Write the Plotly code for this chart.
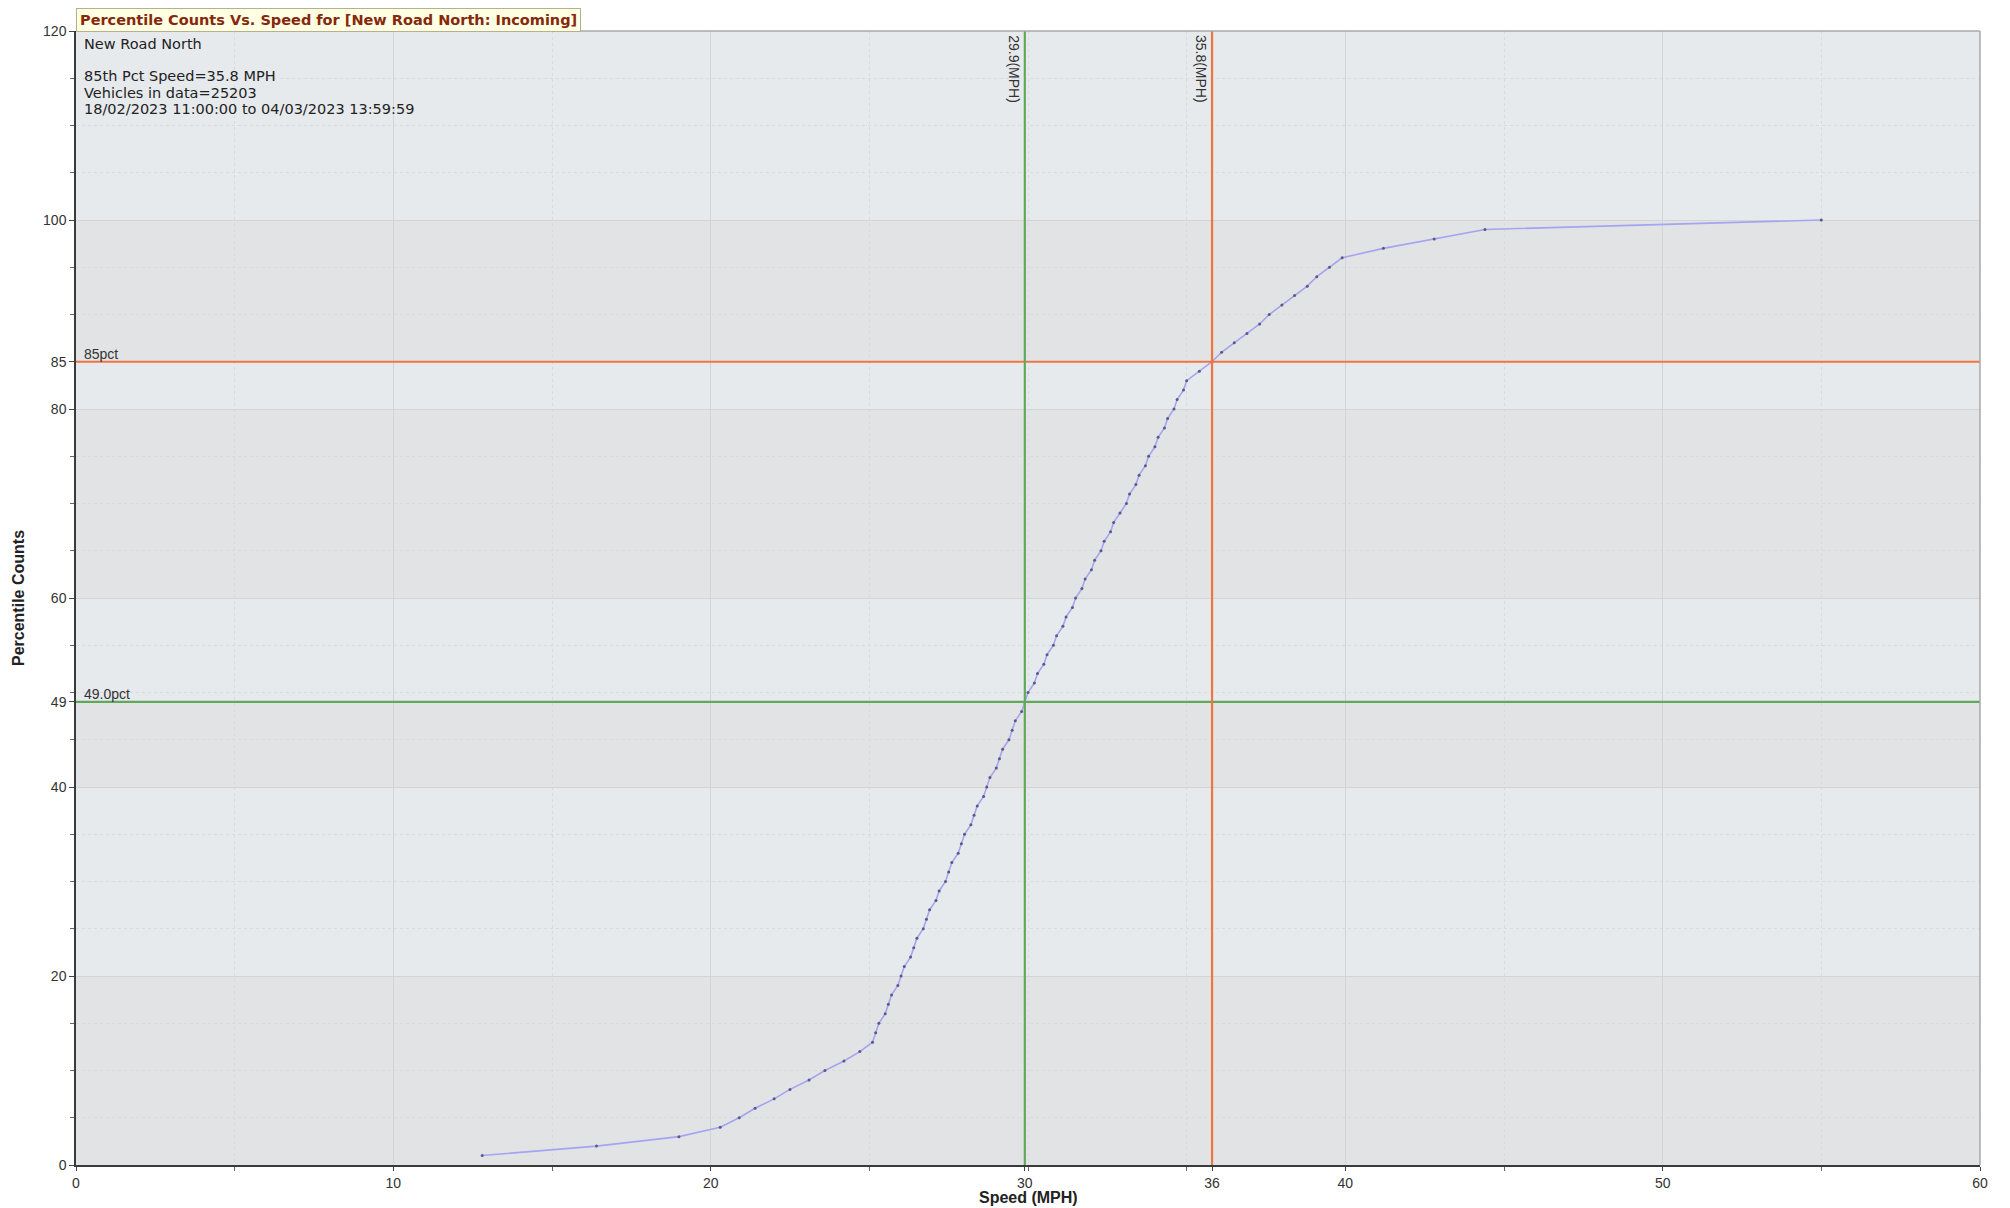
import plotly.graph_objects as go

# ---- data ----
percentiles = list(range(1, 101))
speeds_mph = [
    12.8, 16.4, 19.0, 20.3, 20.9, 21.4, 22.0, 22.5, 23.1, 23.6,
    24.2, 24.7, 25.1, 25.2, 25.3, 25.5, 25.6, 25.7, 25.9, 26.0,
    26.1, 26.3, 26.4, 26.5, 26.7, 26.8, 26.9, 27.1, 27.2, 27.4,
    27.5, 27.6, 27.8, 27.9, 28.0, 28.2, 28.3, 28.4, 28.6, 28.7,
    28.8, 29.0, 29.1, 29.2, 29.4, 29.5, 29.6, 29.8, 29.9, 30.0,
    30.2, 30.3, 30.5, 30.6, 30.8, 30.9, 31.1, 31.2, 31.4, 31.5,
    31.7, 31.8, 32.0, 32.1, 32.3, 32.4, 32.6, 32.7, 32.9, 33.1,
    33.2, 33.4, 33.5, 33.7, 33.8, 34.0, 34.1, 34.3, 34.4, 34.6,
    34.7, 34.9, 35.0, 35.4, 35.8, 36.1, 36.5, 36.9, 37.3, 37.6,
    38.0, 38.4, 38.8, 39.1, 39.5, 39.9, 41.2, 42.8, 44.4, 55.0,
]

pct85_speed = 35.8
pct49_speed = 29.9
pct85 = 85
pct49 = 49.0

x_tickvals = [0, 10, 20, pct49_speed, pct85_speed, 40, 50, 60]
x_ticktext = ["0", "10", "20", "30", "36", "40", "50", "60"]
y_tickvals = [0, 20, 40, pct49, 60, 80, pct85, 100, 120]
y_ticktext = ["0", "20", "40", "49", "60", "80", "85", "100", "120"]

title_text = "Percentile Counts Vs. Speed for [New Road North: Incoming]"
x_title = "Speed (MPH)"
y_title = "Percentile Counts"
info_lines = [
    "New Road North",
    "",
    "85th Pct Speed=35.8 MPH",
    "Vehicles in data=25203",
    "18/02/2023 11:00:00 to 04/03/2023 13:59:59",
]

GREEN = "#62a85a"
ORANGE = "#ee7440"
LIGHT_BAND = "#e7eaed"
DARK_BAND = "#e2e3e5"
TICK_FONT = dict(family="Liberation Sans Narrow, Liberation Sans, Arial", size=14, color="#333333")
INFO_FONT = dict(family="DejaVu Sans", size=14.5, color="#222222")
AXIS_TITLE_FONT = dict(family="Liberation Sans, Arial", size=16, color="#222222")

fig = go.Figure()

fig.add_trace(go.Scatter(
    x=speeds_mph, y=percentiles, mode="lines+markers",
    line=dict(color="#a4a4f0", width=1.6),
    marker=dict(size=3, color="#5a5a86"),
    showlegend=False, hoverinfo="x+y",
))

shapes = []
# alternating background bands between labelled y ticks
for i in range(len(y_tickvals) - 1):
    shapes.append(dict(
        type="rect", xref="paper", yref="y", x0=0, x1=1,
        y0=y_tickvals[i], y1=y_tickvals[i + 1],
        fillcolor=DARK_BAND if i % 2 == 0 else LIGHT_BAND,
        line=dict(width=0), layer="below",
    ))
# reference lines
for yv, col in [(pct85, ORANGE), (pct49, GREEN)]:
    shapes.append(dict(type="line", xref="paper", yref="y", x0=0, x1=1, y0=yv, y1=yv,
                       line=dict(color=col, width=2.2), layer="above"))
for xv, col in [(pct49_speed, GREEN), (pct85_speed, ORANGE)]:
    shapes.append(dict(type="line", xref="x", yref="paper", x0=xv, x1=xv, y0=0, y1=1,
                       line=dict(color=col, width=2.2), layer="above"))
# top / right border
shapes.append(dict(type="line", xref="paper", yref="paper", x0=0, x1=1, y0=1, y1=1,
                   line=dict(color="#a8a8a8", width=1.5), layer="above"))
shapes.append(dict(type="line", xref="paper", yref="paper", x0=1, x1=1, y0=0, y1=1,
                   line=dict(color="#a8a8a8", width=1.5), layer="above"))

annotations = [
    dict(text="<b>" + title_text + "</b>", xref="paper", yref="paper", x=0, y=1,
         xanchor="left", yanchor="bottom", showarrow=False, align="left",
         font=dict(family="DejaVu Sans", size=14.5, color="#86280c"),
         bgcolor="#ffffe3", bordercolor="#b8b08a", borderwidth=1, borderpad=3, xshift=0, yshift=-1),
    dict(text="85pct", xref="paper", yref="y", x=0, y=pct85, xanchor="left", yanchor="bottom",
         showarrow=False, font=TICK_FONT, xshift=6, yshift=-2),
    dict(text="49.0pct", xref="paper", yref="y", x=0, y=pct49, xanchor="left", yanchor="bottom",
         showarrow=False, font=TICK_FONT, xshift=6, yshift=-2),
    dict(text="29.9(MPH)", xref="x", yref="paper", x=pct49_speed, y=1, xanchor="right", yanchor="top",
         textangle=90, showarrow=False, font=TICK_FONT, xshift=-1, yshift=-2),
    dict(text="35.8(MPH)", xref="x", yref="paper", x=pct85_speed, y=1, xanchor="right", yanchor="top",
         textangle=90, showarrow=False, font=TICK_FONT, xshift=-1, yshift=-2),
    # axis titles
    dict(text="<b>" + x_title + "</b>", xref="paper", yref="paper", x=0.5, y=0,
         xanchor="center", yanchor="middle", showarrow=False, font=AXIS_TITLE_FONT, yshift=-32),
    dict(text="<b>" + y_title + "</b>", xref="paper", yref="paper", x=0, y=0.5,
         xanchor="center", yanchor="middle", textangle=-90, showarrow=False,
         font=AXIS_TITLE_FONT, xshift=-58),
]
# info block, one annotation per line for tight line spacing
for i, line in enumerate(info_lines):
    if not line:
        continue
    annotations.append(dict(
        text=line, xref="paper", yref="paper", x=0, y=1, xanchor="left", yanchor="middle",
        showarrow=False, align="left", font=INFO_FONT, xshift=6, yshift=-(13 + 16.2 * i)))

fig.update_layout(
    width=2010, height=1208,
    margin=dict(l=76, r=30, t=31, b=43),
    paper_bgcolor="white", plot_bgcolor=LIGHT_BAND,
    shapes=shapes, annotations=annotations,
    showlegend=False,
    xaxis=dict(
        range=[0, 60], tickvals=x_tickvals, ticktext=x_ticktext,
        ticks="outside", ticklen=4, tickcolor="#444444", tickfont=TICK_FONT,
        showline=True, linecolor="#3a3a3a", linewidth=2,
        showgrid=True, gridcolor="#d2d4d6", gridwidth=1,
        zeroline=False, automargin=False,
        minor=dict(dtick=5, tick0=0, ticks="outside", ticklen=4, tickcolor="#666666",
                   showgrid=True, gridcolor="#d8dadc", griddash="dot"),
    ),
    yaxis=dict(
        range=[0, 120], tickvals=y_tickvals, ticktext=y_ticktext,
        ticks="outside", ticklen=5, tickcolor="#444444", tickfont=TICK_FONT,
        showline=True, linecolor="#3a3a3a", linewidth=1.5,
        showgrid=True, gridcolor="#d2d4d6", gridwidth=1,
        zeroline=False, automargin=False,
        minor=dict(dtick=5, tick0=0, ticks="outside", ticklen=4, tickcolor="#666666",
                   showgrid=True, gridcolor="#d8dadc", griddash="dot"),
    ),
)

fig.write_html("out.html", config={"displayModeBar": False},
               post_script="document.body.style.margin='0';")
